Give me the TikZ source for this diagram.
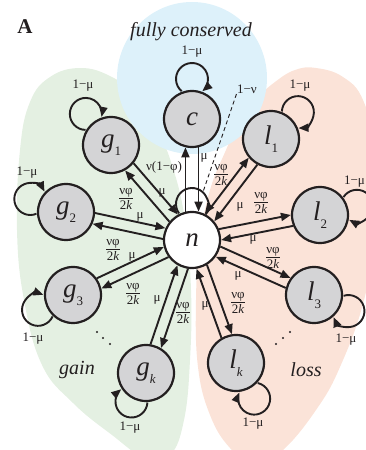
\documentclass[tikz,border=0pt]{standalone}
\usepackage{amsmath}
\usepackage{fontspec}
\setmainfont{Liberation Serif}
\usetikzlibrary{arrows.meta,calc}
\definecolor{cblue}{RGB}{221,241,250}
\definecolor{cgreen}{RGB}{228,240,226}
\definecolor{cpink}{RGB}{251,227,216}
\definecolor{nfill}{RGB}{212,212,214}
\definecolor{ink}{RGB}{35,31,32}
\newcommand\fr{$\genfrac{}{}{0.9pt}{}{\hbox{νφ}}{\hbox{2\textit{k}}}$}
\newcommand\nlab[2]{\textit{#1}\raisebox{-8pt}{\fontsize{13}{13}\selectfont #2}}
\newcommand\selfloop[3]{%
  \pgfmathsetmacro\la{acos((#3*#3+29.6*29.6-256)/(2*#3*29.6))}%
  \pgfmathsetmacro\lg{acos((#3*#3+256-29.6*29.6)/(2*#3*16))}%
  \draw[arr] ($(#1)+({#2+\la}:29.6)$) arc[start angle={#2+180-\lg}, end angle={#2-180+\lg}, radius=16];}
\newcommand\pairarrows[2]{%
  \draw[arr] let \p1=($(#1)-(n)$), \n1={atan2(\y1,\x1)} in (n.{\n1+#2}) -- (#1.{\n1+180-#2});
  \draw[arr] let \p1=($(#1)-(n)$), \n1={atan2(\y1,\x1)} in (#1.{\n1+180+#2}) -- (n.{\n1-#2});}
\tikzset{
  st/.style={circle,draw=ink,line width=2.2pt,fill=nfill,minimum size=56pt,inner sep=0pt,
    font=\fontsize{27}{27}\selectfont,text=ink},
  arr/.style={draw=ink,line width=1.9pt,-{Triangle[length=10pt,width=8pt]}},
  lab/.style={font=\fontsize{13}{13}\selectfont,text=ink,inner sep=0.5pt},
  region/.style={font=\fontsize{20}{20}\selectfont\itshape,text=ink,inner sep=0pt}
}
\begin{document}
\begin{tikzpicture}[x=1pt,y=1pt]
\useasboundingbox (0,0) rectangle (366,450);
\clip (0,0) rectangle (366,450);
% background regions
\fill[cgreen] plot[smooth cycle, tension=0.7] coordinates {
  (80,382) (110,374) (135,355) (155,325) (172,285) (185,230) (191,160) (190,90)
  (184,30) (170,-5) (145,-8) (112,15) (73,47) (42,85) (24,150) (17,220)
  (20,300) (30,348) (50,373)};
\fill[cpink] plot[smooth cycle, tension=0.7] coordinates {
  (316,382) (343,373) (363,350) (375,300) (378,230) (364,150) (340,83) (316,40)
  (283,0) (255,-15) (230,2) (210,35) (198,83) (196,150) (200,210) (210,260)
  (226,300) (240,330) (255,350) (275,368) (295,380)};
\fill[cblue] (192,372) ellipse [x radius=75, y radius=76];
% nodes
\node[st,fill=white] (n) at (192,210) {\textit{n}};
\node[st] (c) at (192,331) {\textit{c}};
\node[st] (g1) at (111,305) {\nlab{g}{1}};
\node[st] (g2) at (66,238) {\nlab{g}{2}};
\node[st] (g3) at (73,155) {\nlab{g}{3}};
\node[st] (gk) at (146,77) {\nlab{g}{\textit{k}}};
\node[st] (l1) at (271,311) {\nlab{l}{1}};
\node[st] (l2) at (320,235) {\nlab{l}{2}};
\node[st] (l3) at (314,155) {\nlab{l}{3}};
\node[st] (lk) at (236,87) {\nlab{l}{\textit{k}}};
% connectors
\pairarrows{c}{13}
\pairarrows{g1}{11}
\pairarrows{g2}{11}
\pairarrows{g3}{11}
\pairarrows{gk}{11}
\pairarrows{l1}{11}
\pairarrows{l2}{11}
\pairarrows{l3}{11}
\pairarrows{lk}{11}
% self loops
\selfloop{g1}{129}{40}
\selfloop{c}{90}{40}
\selfloop{l1}{45}{38}
\selfloop{g2}{160}{38}
\selfloop{l2}{14}{38}
\selfloop{g3}{203}{38}
\selfloop{l3}{335}{38}
\selfloop{gk}{243}{32}
\selfloop{lk}{297}{40}
\selfloop{n}{90}{36}
% loop labels
\node[lab] (mg1) at (83,364) {1−μ};
\node[lab] (mc) at (192,398) {1−μ};
\node[lab] (ml1) at (300,364) {1−μ};
\node[lab] (mg2) at (27,277) {1−μ};
\node[lab,anchor=east] (ml2) at (365.5,268) {1−μ};
\node[lab] (mg3) at (33,111) {1−μ};
\node[lab] (ml3) at (346,110) {1−μ};
\node[lab] (mgk) at (130,22) {1−μ};
\node[lab] (mlk) at (253,26) {1−μ};
% n self-loop label with dashed leader
\node[lab] (nu) at (247,361) {1−ν};
\coordinate (nuend) at (203,258);
\draw[ink,line width=0.9pt,dash pattern=on 4pt off 3pt] (nu.south west) -- (nuend);
% arrow labels
\node[lab] (ac1) at (164,283) {ν(1−φ)};
\node[lab] (ac2) at (204,292) {μ};
\node[lab] (ag1a) at (126,251) {\fr};
\node[lab] (ag1b) at (162,257) {μ};
\node[lab] (ag2a) at (140,233) {μ};
\node[lab] (ag2b) at (113,200) {\fr};
\node[lab] (ag3a) at (132,193) {μ};
\node[lab] (ag3b) at (133,156) {\fr};
\node[lab] (agka) at (157,150) {μ};
\node[lab] (agkb) at (183,137) {\fr};
\node[lab] (alka) at (205,144) {μ};
\node[lab] (alkb) at (238,147) {\fr};
\node[lab] (al3a) at (238,174) {μ};
\node[lab] (al3b) at (273,192) {\fr};
\node[lab] (al2a) at (253,210) {μ};
\node[lab] (al2b) at (261,247) {\fr};
\node[lab] (al1a) at (240,243) {μ};
\node[lab] (al1b) at (221,275) {\fr};
% dots
\foreach \p in {(97,118),(103,112),(110,106),(290,118),(283,112),(276,106)}
  \fill[ink] \p circle (1.1);
% region labels
\node[region] (fc) at (191,418) {fully conserved};
\node[region] (gain) at (77,80) {gain};
\node[region] (loss) at (306,80) {loss};
\node[font=\fontsize{21}{21}\selectfont\bfseries,text=ink,inner sep=0pt] (A) at (25,423) {A};
\end{tikzpicture}
\end{document}
